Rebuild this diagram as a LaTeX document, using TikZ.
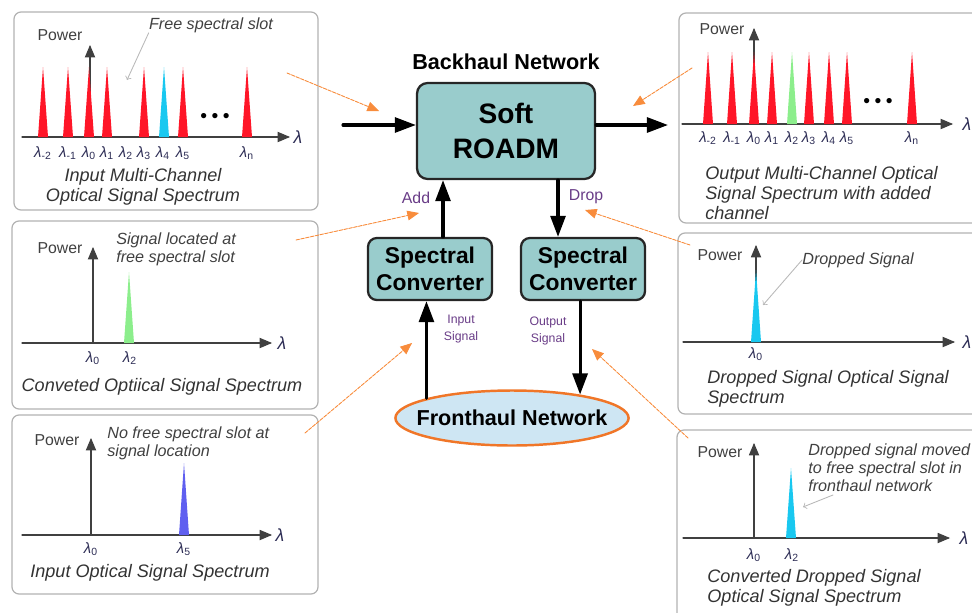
\documentclass[tikz,border=0pt]{standalone}
\usepackage{fontspec}
\setmainfont{Liberation Sans}
\usetikzlibrary{arrows,arrows.meta}
\usetikzlibrary{shapes.geometric}

\definecolor{roadmfill}{RGB}{153,204,204}
\definecolor{frontfill}{RGB}{206,230,243}
\definecolor{frontedge}{RGB}{240,118,40}
\definecolor{pointer}{RGB}{248,140,60}
\definecolor{labpurple}{RGB}{105,60,135}
\definecolor{peakred}{RGB}{255,22,40}
\definecolor{peakcyan}{RGB}{25,200,240}
\definecolor{peakgreen}{RGB}{140,238,140}
\definecolor{peakblue}{RGB}{95,95,240}
\definecolor{lamcol}{RGB}{45,45,85}

\newcommand{\wl}[1]{\textit{λ}\textsubscript{#1}}

\tikzset{
  panel/.style={draw=gray!60, line width=0.7pt, rounded corners=4pt},
  specaxis/.style={->, draw=black!75, line width=0.6pt},
  power/.style={text=black!75, font=\fontsize{9}{10}\selectfont, inner sep=0pt},
  wlab/.style={text=lamcol, font=\fontsize{8.5}{10}\selectfont, inner sep=0pt},
  lamend/.style={text=lamcol, font=\itshape\fontsize{10}{10}\selectfont, inner sep=0pt},
  note/.style={text=black!75, font=\itshape\fontsize{9.2}{10.2}\selectfont, align=left, inner sep=0pt},
  ptitle/.style={text=black!80, font=\itshape\fontsize{10.3}{11.2}\selectfont, align=left, inner sep=0pt},
  dotsrow/.style={font=\fontsize{11}{11}\selectfont, inner sep=0pt},
  graypt/.style={-to, draw=gray!55, line width=0.5pt},
  orangept/.style={->, draw=pointer, fill=pointer, line width=0.5pt, dash pattern=on 2pt off 0.8pt},
  bigarrow/.style={-{Triangle[length=12pt,width=8.5pt]}, line width=1.8pt},
  roadmbox/.style={draw=black!85, line width=1.3pt, fill=roadmfill, rounded corners=6pt,
    minimum width=3.56cm, minimum height=1.92cm, inner sep=0pt, align=center,
    font=\bfseries\fontsize{16}{19.5}\selectfont},
  convbox/.style={draw=black!85, line width=1.3pt, fill=roadmfill, rounded corners=5pt,
    minimum width=2.48cm, minimum height=1.24cm, inner sep=0pt, align=center,
    font=\bfseries\fontsize{13}{15}\selectfont},
  fronthaul/.style={ellipse, draw=frontedge, line width=1.4pt, fill=frontfill,
    minimum width=4.66cm, minimum height=1.1cm, inner xsep=-0.26cm, inner ysep=0pt,
    font=\bfseries\fontsize{12.3}{13}\selectfont},
  sidelab/.style={text=labpurple, font=\fontsize{9}{10}\selectfont, inner sep=0pt},
  smalllab/.style={text=labpurple, font=\fontsize{7}{9.5}\selectfont, align=center, inner sep=0pt}
}

\begin{document}
\begin{tikzpicture}[line cap=round,line join=round,>=triangle 45,x=0.02cm,y=-0.02cm]

  \useasboundingbox (0,0) rectangle (972,612);
  \clip (0,0) rectangle (972,612);

  % Input Multi-Channel spektri
  \draw[panel] (14,12) rectangle (318,210);
  \draw[specaxis] (22,137) -- (290,137);
  \draw[specaxis] (90,137) -- (90,45);
  \foreach \x/\c in {43/peakred,68/peakred,89/peakred,107/peakred,144/peakred,164/peakcyan,183/peakred,247/peakred}
  {\fill[\c] (\x-5,137) -- (\x,67) -- (\x+5,137) -- cycle;}
  \foreach \x/\s [count=\i] in {43/-2,68/-1,89/0,107/1,126/2,144/3,163/4,183/5,247/n}
  {\node[wlab] (tlw\i) at (\x,153) {\wl{\s}};}
  \node[lamend] (tllam) at (298,137) {λ};
  \node[dotsrow] (tldots) at (215,118) {•\hspace{2.5pt}•\hspace{2.5pt}•};
  \node[power] (tlpow) at (60,35) {Power};
  \node[note] (tlnote) at (211,25) {Free spectral slot};
  \coordinate (tlslot) at (127,80);
  \draw[graypt] (tlnote.south west) -- (tlslot);
  \node[ptitle, align=center] (tltitle) at (143,187) {Input Multi-Channel\\Optical Signal Spectrum};

  % Output Multi-Channel spektri
  \draw[panel] (679,13) rectangle (995,223);
  \draw[specaxis] (682,124) -- (953,124);
  \draw[specaxis] (754,124) -- (754,28);
  \foreach \x/\c in {708/peakred,732/peakred,754/peakred,772/peakred,792/peakgreen,809/peakred,829/peakred,847/peakred,912/peakred}
  {\fill[\c] (\x-5,124) -- (\x,52) -- (\x+5,124) -- cycle;}
  \foreach \x/\s [count=\i] in {708/-2,732/-1,754/0,772/1,792/2,809/3,829/4,847/5,912/n}
  {\node[wlab] (trw\i) at (\x,138) {\wl{\s}};}
  \node[lamend] (trlam) at (967,124) {λ};
  \node[dotsrow] (trdots) at (878,103) {•\hspace{2.5pt}•\hspace{2.5pt}•};
  \node[power] (trpow) at (722,29) {Power};
  \node[ptitle, anchor=west] (trtitle) at (705,193) {Output Multi-Channel Optical\\Signal Spectrum with added\\channel};

  % Conveted spektri
  \draw[panel] (12,221) rectangle (318,409);
  \draw[specaxis] (22,343) -- (272,343);
  \draw[specaxis] (93,343) -- (93,247);
  \fill[peakgreen] (124,343) -- (129,272) -- (134,343) -- cycle;
  \node[wlab] (mlw1) at (93,358) {\wl{0}};
  \node[wlab] (mlw2) at (130,358) {\wl{2}};
  \node[lamend] (mllam) at (282,343) {λ};
  \node[power] (mlpow) at (60,248) {Power};
  \node[note, anchor=west] (mlnote) at (116,249) {Signal located at\\free spectral slot};
  \node[ptitle] (mltitle) at (162,387) {Conveted Optiical Signal Spectrum};

  % Input Optical spektri
  \draw[panel] (12,415) rectangle (318,594);
  \draw[specaxis] (22,535) -- (272,535);
  \draw[specaxis] (91,535) -- (91,438);
  \fill[peakblue] (179,535) -- (184,463) -- (189,535) -- cycle;
  \node[wlab] (blw1) at (91,549) {\wl{0}};
  \node[wlab] (blw2) at (184,549) {\wl{5}};
  \node[lamend] (bllam) at (280,535) {λ};
  \node[power] (blpow) at (57,440) {Power};
  \node[note, anchor=west] (blnote) at (107,443) {No free spectral slot at\\signal location};
  \node[ptitle] (bltitle) at (150,573) {Input Optical Signal Spectrum};

  % Dropped spektri
  \draw[panel] (678,233) rectangle (995,414);
  \draw[specaxis] (683,342) -- (955,342);
  \draw[specaxis] (756,342) -- (756,245);
  \fill[peakcyan] (751,342) -- (756,270) -- (761,342) -- cycle;
  \node[wlab] (mrw1) at (756,354) {\wl{0}};
  \node[lamend] (mrlam) at (967,342) {λ};
  \node[power] (mrpow) at (720,255) {Power};
  \node[note, anchor=west] (mrnote) at (802,260) {Dropped Signal};
  \coordinate (mrsig) at (763,305);
  \draw[graypt] (mrnote.west) -- (mrsig);
  \node[ptitle, anchor=west] (mrtitle) at (707,389) {Dropped Signal Optical Signal\\Spectrum};

  % Converted Dropped spektri
  \draw[panel] (677,430) rectangle (995,640);
  \draw[specaxis] (683,538) -- (950,538);
  \draw[specaxis] (754,538) -- (754,443);
  \fill[peakcyan] (786,538) -- (791,468) -- (796,538) -- cycle;
  \node[wlab] (brw1) at (754,555) {\wl{0}};
  \node[wlab] (brw2) at (792,555) {\wl{2}};
  \node[lamend] (brlam) at (964,538) {λ};
  \node[power] (brpow) at (720,452) {Power};
  \node[note, anchor=west] (brnote) at (808,468) {Dropped signal moved\\to free spectral slot in\\fronthaul network};
  \coordinate (brfrom) at (833,495);
  \coordinate (brsig) at (803,507);
  \draw[graypt] (brfrom) -- (brsig);
  \node[ptitle, anchor=west] (brtitle) at (707,588) {Converted Dropped Signal\\Optical Signal Spectrum};

  % Keskiosa
  \node[font=\bfseries\fontsize{12.3}{13}\selectfont, inner sep=0pt] (bhtitle) at (506,62) {Backhaul Network};
  \node[roadmbox] (roadm) at (506,131) {Soft\\ROADM};
  \node[convbox] (addconv) at (430,269) {Spectral\\Converter};
  \node[convbox] (dropconv) at (583,269) {Spectral\\Converter};
  \node[fronthaul] (front) at (512,418) {Fronthaul Network};

  \coordinate (bhin) at (343,125);
  \coordinate (bhout) at (668,125);
  \coordinate (addx) at (443,0);
  \coordinate (dropx) at (558,0);
  \draw[bigarrow] (bhin) -- (bhin -| roadm.west);
  \draw[bigarrow] (bhout -| roadm.east) -- (bhout);
  \draw[bigarrow] (addconv.north -| addx) -- (roadm.south -| addx);
  \draw[bigarrow] (roadm.south -| dropx) -- (dropconv.north -| dropx);
  \draw[bigarrow] (front.167) -- (front.167 |- addconv.south);
  \draw[bigarrow] (dropconv.south -| front.19) -- (front.19);

  \node[sidelab] (addlab) at (416,198) {Add};
  \node[sidelab] (droplab) at (586,197) {Drop};
  \node[smalllab] (inlab) at (461,329) {Input\\Signal};
  \node[smalllab] (outlab) at (548,331) {Output\\Signal};

  % oranssit osoittimet
  \coordinate (p1a) at (287,73);   \coordinate (p1b) at (379,111);
  \coordinate (p2a) at (692,68);   \coordinate (p2b) at (633,106);
  \coordinate (p3a) at (296,240);  \coordinate (p3b) at (419,213);
  \coordinate (p4a) at (690,245);  \coordinate (p4b) at (585,210);
  \coordinate (p5a) at (305,433);  \coordinate (p5b) at (412,343);
  \coordinate (p6a) at (688,438);  \coordinate (p6b) at (592,349);
  \foreach \a/\b in {p1a/p1b,p2a/p2b,p3a/p3b,p4a/p4b,p5a/p5b,p6a/p6b}
  {\draw[orangept] (\a) -- (\b);}

\end{tikzpicture}
\end{document}
